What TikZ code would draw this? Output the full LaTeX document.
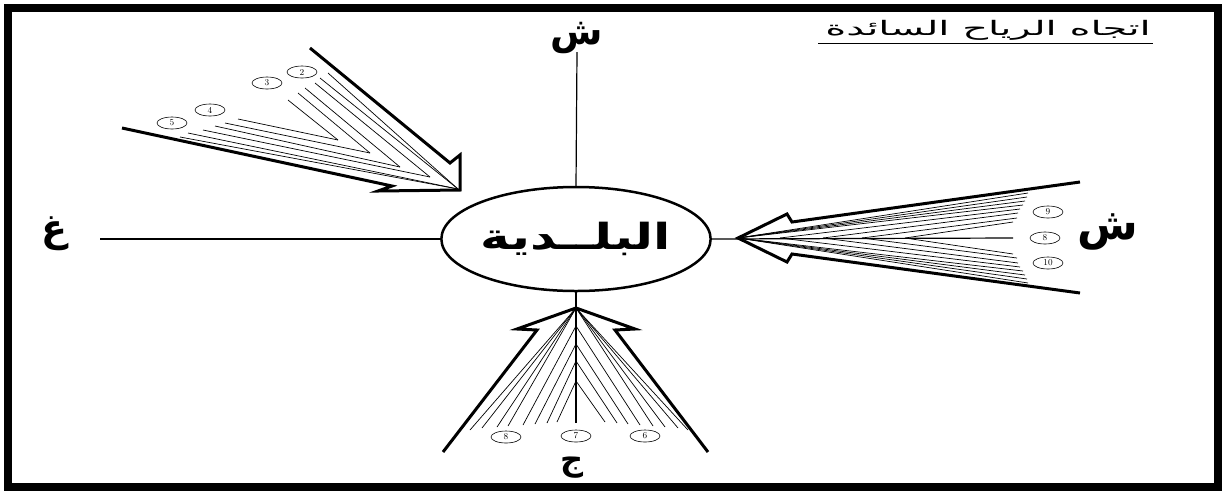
\documentclass[tikz,border=0pt]{standalone}
\usepackage{fontspec}
\usetikzlibrary{shapes.geometric}
\newfontfamily\arabicfont[Script=Arabic]{DejaVu Sans}
\TeXXeTstate=1
\begin{document}
\begin{tikzpicture}[x=1pt,y=-1pt,
  outline/.style={line width=3pt,line join=miter},
  hatch/.style={line width=0.7pt},
  axis/.style={line width=1.2pt},
  num/.style={draw,ellipse,line width=0.6pt,minimum width=30pt,minimum height=12pt,inner sep=0pt,font=\fontsize{9}{9}\selectfont},
  dirlabel/.style={font=\arabicfont\bfseries\fontsize{38}{38}\selectfont,inner sep=0pt}]
\useasboundingbox (0,0) rectangle (1222,491);
\draw[line width=8pt] (8,8) rectangle (1218,487);
% title
\node[inner sep=0pt,font=\arabicfont\fontsize{20}{20}\selectfont] (title) at (988,30) {\scalebox{2.0}[1]{\beginR اتجاه  الرياح  السائدة\endR}};
\coordinate (ul1) at (818,43);
\coordinate (ul2) at (1153,43);
\draw[line width=0.8pt] (ul1) -- (ul2);
% centre
\node[draw,ellipse,line width=2.5pt,minimum width=264pt,minimum height=104pt,inner sep=0pt,
  font=\arabicfont\bfseries\fontsize{36}{36}\selectfont] (city) at (576,239) {\scalebox{1.4}[1]{\beginR البلــدية\endR}};
% direction labels
\node[dirlabel] (N) at (577,38) {\beginR ش\endR};
\node[dirlabel,font=\arabicfont\bfseries\fontsize{44}{44}\selectfont] (E) at (1108,232) {\beginR ش\endR};
\node[dirlabel] (W) at (54,234) {\beginR غ\endR};
\node[dirlabel,font=\arabicfont\bfseries\fontsize{32}{32}\selectfont] (S) at (572,468) {\beginR ج\endR};
% axes
\coordinate (nEnd) at (577,52);
\coordinate (wEnd) at (100,239);
\coordinate (eEnd) at (1013,238);
\coordinate (sEnd) at (576,423);
\draw[axis] (city.north) -- (nEnd);
\draw[axis] (city.west) -- (wEnd);
\draw[axis] (city.east) -- (eEnd);
\draw[axis] (city.south) -- (sEnd);
% east arrow
\draw[outline] (1080,182) -- (792,222) -- (787,214) -- (738,238) -- (787,262) -- (792,254) -- (1080,293);
\foreach \vx/\ex/\ey in {738/1028/193,738/1027/197,738/1025/201,738/1023/205,780/1020/209,823/1018/213,862/1017/218,905/1013/222}{
  \draw[hatch] (\vx,238) -- (\ex,\ey);
  \draw[hatch] (\vx,238) -- (\ex,{476-\ey});
}
\node[num] (e9) at (1048,212) {9};
\node[num] (e8) at (1045,238) {8};
\node[num] (e10) at (1048,263) {10};
% south arrow
\draw[outline] (443,452) -- (537,330) -- (517,329) -- (576,308) -- (635,329) -- (615,330) -- (708,452);
\foreach \vy/\lx/\ly/\rx/\ry in {308/470/430/688/430,308/482/428/678/428,308/497/427/665/427,308/508/426/653/426,326/523/425/640/425,344/535/424/628/424,361/547/423/617/423,381/557/422/605/422}{
  \draw[hatch] (576,\vy) -- (\lx,\ly);
  \draw[hatch] (576,\vy) -- (\rx,\ry);
}
\node[num] (s8) at (506,437) {8};
\node[num] (s7) at (576,436) {7};
\node[num] (s6) at (645,436) {6};
% north-west arrow
\draw[outline] (310,48) -- (450,163) -- (460,155) -- (460,190) -- (378,191) -- (392,186) -- (122,128);
\foreach \vx/\vy/\ax/\ay/\bx/\by in {338/140/288/100/238/119,370/153/298/93/225/123,400/167/305/88/215/126,430/177/315/83/203/130,458/189/320/78/188/133,458/189/328/73/180/137}{
  \draw[hatch] (\vx,\vy) -- (\ax,\ay);
  \draw[hatch] (\vx,\vy) -- (\bx,\by);
}
\node[num] (w2) at (302,72) {2};
\node[num] (w3) at (267,83) {3};
\node[num] (w4) at (210,110) {4};
\node[num] (w5) at (172,123) {5};
\end{tikzpicture}
\end{document}
